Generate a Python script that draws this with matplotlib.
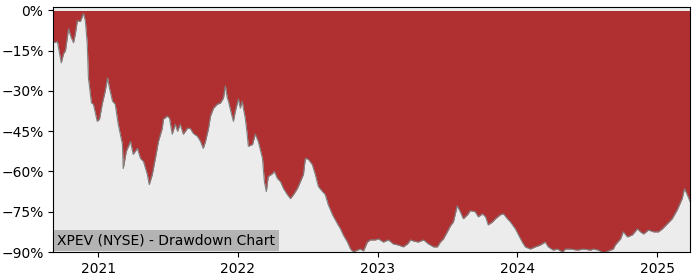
import numpy as np
import pandas as pd
import matplotlib
matplotlib.use("Agg")
import matplotlib.pyplot as plt
import matplotlib.dates as mdates
from matplotlib.ticker import PercentFormatter

# drawdown readings (percent below running high)
dates = [
    "2020-09-05", "2020-09-16", "2020-09-26", "2020-10-02", "2020-10-07", "2020-10-15",
    "2020-10-22", "2020-10-28", "2020-11-02", "2020-11-07", "2020-11-15", "2020-11-23",
    "2020-11-28", "2020-12-03", "2020-12-06", "2020-12-14", "2020-12-19", "2020-12-29",
    "2021-01-04", "2021-01-11", "2021-01-19", "2021-01-25", "2021-01-30", "2021-02-07",
    "2021-02-14", "2021-02-22", "2021-03-05", "2021-03-07", "2021-03-15", "2021-03-26",
    "2021-04-02", "2021-04-13", "2021-04-21", "2021-04-29", "2021-05-09", "2021-05-14",
    "2021-05-22", "2021-05-30", "2021-06-07", "2021-06-17", "2021-06-20", "2021-06-30",
    "2021-07-06", "2021-07-13", "2021-07-21", "2021-07-27", "2021-08-03", "2021-08-11",
    "2021-08-22", "2021-08-29", "2021-09-06", "2021-09-17", "2021-09-25", "2021-10-02",
    "2021-10-08", "2021-10-16", "2021-10-21", "2021-10-29", "2021-11-08", "2021-11-16",
    "2021-11-24", "2021-11-29", "2021-12-04", "2021-12-07", "2021-12-15", "2021-12-20",
    "2021-12-25", "2022-01-02", "2022-01-07", "2022-01-12", "2022-01-15", "2022-01-20",
    "2022-01-25", "2022-01-28", "2022-02-08", "2022-02-15", "2022-02-23", "2022-03-06",
    "2022-03-11", "2022-03-16", "2022-03-21", "2022-04-01", "2022-04-06", "2022-04-14",
    "2022-04-22", "2022-04-30", "2022-05-10", "2022-05-18", "2022-05-26", "2022-06-05",
    "2022-06-13", "2022-06-21", "2022-06-26", "2022-07-04", "2022-07-14", "2022-07-22",
    "2022-07-30", "2022-08-10", "2022-08-17", "2022-08-25", "2022-09-05", "2022-09-18",
    "2022-09-26", "2022-10-03", "2022-10-14", "2022-10-22", "2022-10-30", "2022-11-09",
    "2022-11-17", "2022-11-25", "2022-12-05", "2022-12-13", "2022-12-26", "2023-01-03",
    "2023-01-16", "2023-01-29", "2023-02-11", "2023-02-24", "2023-03-09", "2023-03-20",
    "2023-03-28", "2023-04-04", "2023-04-17", "2023-05-01", "2023-05-14", "2023-05-27",
    "2023-06-06", "2023-06-14", "2023-06-22", "2023-07-02", "2023-07-10", "2023-07-18",
    "2023-07-28", "2023-08-05", "2023-08-13", "2023-08-24", "2023-08-31", "2023-09-13",
    "2023-09-21", "2023-10-02", "2023-10-10", "2023-10-17", "2023-10-28", "2023-11-05",
    "2023-11-18", "2023-11-26", "2023-12-06", "2023-12-14", "2023-12-27", "2024-01-04",
    "2024-01-14", "2024-01-22", "2024-02-04", "2024-02-17", "2024-03-01", "2024-03-14",
    "2024-03-22", "2024-04-04", "2024-04-15", "2024-04-28", "2024-05-06", "2024-05-19",
    "2024-06-06", "2024-06-22", "2024-07-10", "2024-07-18", "2024-07-31", "2024-08-13",
    "2024-08-26", "2024-09-08", "2024-09-13", "2024-09-27", "2024-10-04", "2024-10-15",
    "2024-10-28", "2024-11-10", "2024-11-18", "2024-11-26", "2024-12-09", "2024-12-22",
    "2025-01-04", "2025-01-14", "2025-01-27", "2025-02-09", "2025-02-22", "2025-03-07",
    "2025-03-13", "2025-03-20", "2025-03-28",
]
drawdown = [
    -12.0, -11.6, -19.5, -16.1, -15.0, -6.8,
    -10.1, -12.0, -8.6, -3.8, -4.1, -1.1,
    -3.8, -12.4, -25.1, -34.5, -34.9, -41.3,
    -40.5, -34.9, -30.0, -25.1, -28.9, -33.8,
    -34.9, -42.4, -49.9, -58.9, -52.5, -48.8,
    -53.6, -51.4, -55.1, -56.3, -61.1, -64.9,
    -61.1, -55.1, -48.8, -43.9, -40.5, -39.4,
    -40.1, -46.1, -42.4, -45.0, -42.4, -46.1,
    -43.9, -43.9, -45.8, -46.9, -48.8, -51.4,
    -48.8, -43.9, -39.4, -36.4, -34.9, -34.5,
    -32.6, -28.1, -32.6, -33.8, -38.6, -41.3,
    -37.5, -33.0, -36.4, -33.8, -36.4, -40.1,
    -46.1, -50.6, -49.9, -46.1, -48.8, -55.1,
    -63.8, -67.5, -61.9, -60.8, -60.0, -62.6,
    -63.8, -66.4, -68.6, -70.1, -68.6, -66.4,
    -63.8, -61.1, -55.1, -55.5, -57.4, -61.1,
    -65.6, -67.5, -68.6, -72.4, -76.1, -79.5,
    -81.4, -83.6, -86.3, -88.9, -90.0, -89.3,
    -88.9, -89.6, -86.3, -85.5, -85.5, -85.1,
    -86.3, -85.5, -87.0, -87.4, -88.1, -87.0,
    -85.5, -85.9, -86.3, -85.5, -87.0, -88.1,
    -88.1, -86.3, -85.1, -82.5, -80.3, -78.8,
    -72.8, -75.0, -77.6, -76.1, -74.6, -75.0,
    -76.9, -75.8, -76.9, -79.9, -78.8, -77.6,
    -76.1, -75.8, -77.6, -78.8, -81.4, -83.6,
    -86.3, -88.1, -88.9, -88.1, -87.4, -86.3,
    -88.1, -89.3, -88.9, -90.0, -88.9, -88.9,
    -89.3, -88.9, -89.3, -88.9, -89.3, -90.4,
    -89.6, -88.9, -87.4, -85.1, -82.5, -84.4,
    -83.6, -81.4, -82.5, -83.3, -81.8, -82.5,
    -82.5, -81.4, -79.5, -77.6, -74.3, -70.1,
    -66.4, -68.6, -71.3,
]
title = "XPEV (NYSE) - Drawdown Chart"

x = pd.to_datetime(dates)
dd = np.array(drawdown)

fig = plt.figure(figsize=(7, 2.8), dpi=100)
ax = fig.add_axes([0.076, 0.1, 0.91, 0.875])
ax.set_facecolor("#ececec")

ax.fill_between(x, dd, 0, color="#b03031", linewidth=0)
ax.plot(x, dd, color="#808080", linewidth=0.8)

ax.set_xlim(x[0], x[-1])
ax.set_ylim(-90, 1.3)
ax.set_yticks([0, -15, -30, -45, -60, -75, -90])
ax.yaxis.set_major_formatter(PercentFormatter(decimals=0))
ax.xaxis.set_major_locator(mdates.YearLocator())
ax.xaxis.set_major_formatter(mdates.DateFormatter("%Y"))
ax.tick_params(labelsize=10)

ax.annotate(title, xy=(0, 0), xycoords="axes fraction", xytext=(3, 3),
            textcoords="offset points", ha="left", va="bottom", fontsize=10,
            bbox=dict(facecolor="#b3b3b3", edgecolor="none", pad=2.5))

fig.savefig("out.png")
